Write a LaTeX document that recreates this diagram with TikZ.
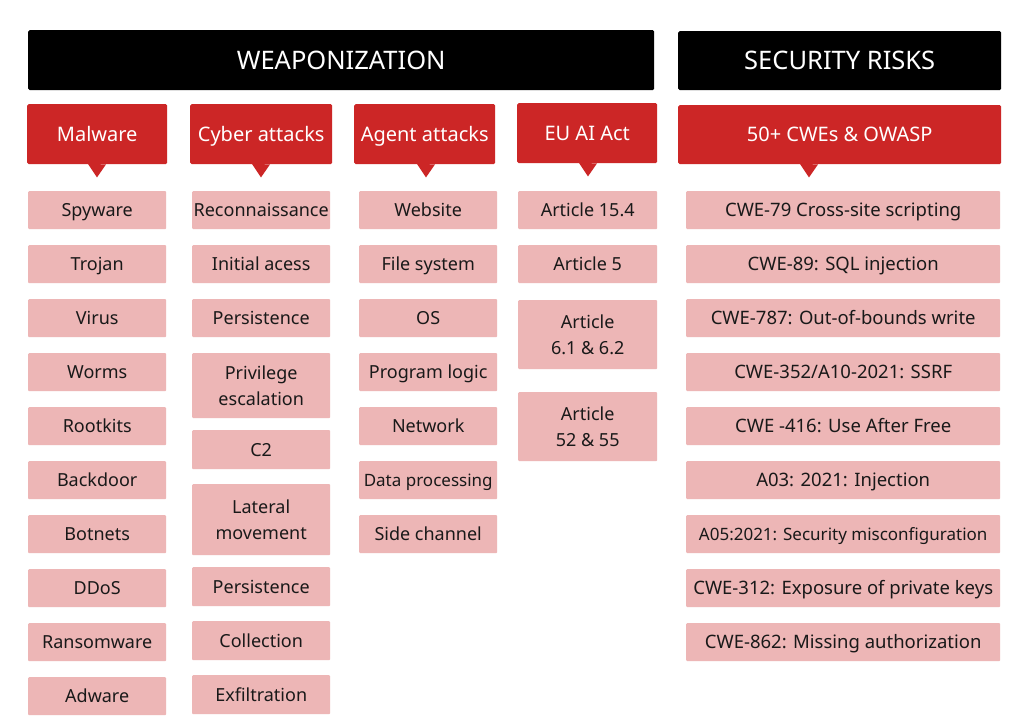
\documentclass[tikz,border=0pt]{standalone}
\usepackage{fontspec}
\setmainfont{Noto Sans}
\usetikzlibrary{calc}
\definecolor{hdrred}{RGB}{204,38,38}
\definecolor{itempink}{RGB}{237,182,182}
\definecolor{itemtext}{RGB}{25,25,25}
\tikzset{
  banner/.style={fill=black, rounded corners=1.5pt, text=white, inner sep=0pt,
    text height=20pt, text depth=2pt,
    font=\fontsize{25.5}{30}\selectfont},
  hdr/.style={fill=hdrred, rounded corners=1.5pt, text=white, inner sep=0pt,
    text height=16.3pt, text depth=2pt,
    font=\fontsize{20}{24}\selectfont},
  item/.style={fill=itempink, rounded corners=1pt, text=itemtext, inner sep=0pt,
    align=center, text height=14.8pt, text depth=2pt,
    font=\fontsize{18}{26}\selectfont},
  itemtwo/.style={item, text height=40.8pt, text depth=2pt},
  itemw/.style={item, text height=15.2pt, font=\fontsize{18.5}{26}\selectfont},
  itemn/.style={item, text height=14pt, font=\fontsize{17}{26}\selectfont},
}
% \boxat{name}{style}{x1}{y1}{x2}{y2}{text}
\newcommand{\boxat}[7]{%
  \node[#2, anchor=north west, minimum width={#5-#3}, minimum height={#6-#4}]
    (#1) at (#3,#4) {#7};}
\begin{document}
\begin{tikzpicture}[x=1pt,y=-1pt]
\useasboundingbox[fill=white] (0,0) rectangle (1024,719);
% banners
\boxat{weap}{banner}{28}{30}{654}{90}{WEAPONIZATION}
\boxat{risk}{banner}{678}{31}{1001}{90}{SECURITY RISKS}
% headers
\boxat{hmal}{hdr}{27}{104}{167}{164}{Malware}
\boxat{hcyb}{hdr}{190}{104}{332}{164}{Cyber attacks}
\boxat{hage}{hdr}{354}{104}{495}{164}{Agent attacks}
\boxat{heu}{hdr}{517}{103}{657}{163}{EU AI Act}
\boxat{hcwe}{hdr}{678}{105}{1001}{164}{50+ CWEs \& OWASP}
% pointers
\foreach \n/\x in {hmal/97,hcyb/261,hage/426,heu/588,hcwe/809}{
  \fill[hdrred] ([yshift=0.5pt]\n.south -| \x-9,0) -- (\n.south -| \x+9,0)
    -- ([yshift=-13pt]\n.south -| \x,0) -- cycle;
}
% column 1: malware
\foreach \t [count=\i from 0] in {Spyware,Trojan,Virus,Worms,Rootkits,Backdoor,Botnets,DDoS,Ransomware,Adware}{
  \pgfmathsetmacro{\yy}{191+54*\i}
  \boxat{m\i}{item}{28}{\yy}{166}{\yy+38}{\t}
}
% column 2: cyber attacks
\boxat{c0}{item}{192}{191}{330}{229}{Reconnaissance}
\boxat{c1}{item}{192}{245}{330}{283}{Initial acess}
\boxat{c2}{item}{192}{299}{330}{337}{Persistence}
\boxat{c3}{itemtwo}{192}{353}{330}{418}{Privilege\\escalation}
\boxat{c4}{item}{192}{430}{330}{469}{C2}
\boxat{c5}{itemtwo}{192}{484}{330}{555}{Lateral\\movement}
\boxat{c6}{item}{192}{567}{330}{606}{Persistence}
\boxat{c7}{item}{192}{621}{330}{660}{Collection}
\boxat{c8}{item}{192}{675}{330}{714}{Exfiltration}
% column 3: agent attacks
\foreach \t [count=\i from 0] in {Website,File system,OS,Program logic,Network}{
  \pgfmathsetmacro{\yy}{191+54*\i}
  \boxat{a\i}{item}{359}{\yy}{497}{\yy+38}{\t}
}
\boxat{a5}{itemn}{359}{461}{497}{499}{Data processing}
\boxat{a6}{item}{359}{515}{497}{553}{Side channel}
% column 4: EU AI Act
\boxat{e0}{item}{518}{191}{657}{229}{Article 15.4}
\boxat{e1}{item}{518}{245}{657}{283}{Article 5}
\boxat{e2}{itemtwo}{518}{300}{657}{369}{Article\\6.1 \& 6.2}
\boxat{e3}{itemtwo}{518}{392}{657}{461}{Article\\52 \& 55}
% column 5: CWEs
\foreach \t [count=\i from 0] in {CWE-79 Cross-site scripting,CWE-89: SQL injection,CWE-787: Out-of-bounds write,CWE-352/A10-2021: SSRF,CWE -416: Use After Free,A03: 2021: Injection}{
  \pgfmathsetmacro{\yy}{191+54*\i}
  \boxat{w\i}{itemw}{686}{\yy}{1000}{\yy+38}{\t}
}
\boxat{w6}{itemn}{686}{515}{1000}{553}{A05:2021: Security misconfiguration}
\boxat{w7}{itemw}{686}{569}{1000}{607}{CWE-312: Exposure of private keys}
\boxat{w8}{itemw}{686}{623}{1000}{661}{CWE-862: Missing authorization}
\end{tikzpicture}
\end{document}
